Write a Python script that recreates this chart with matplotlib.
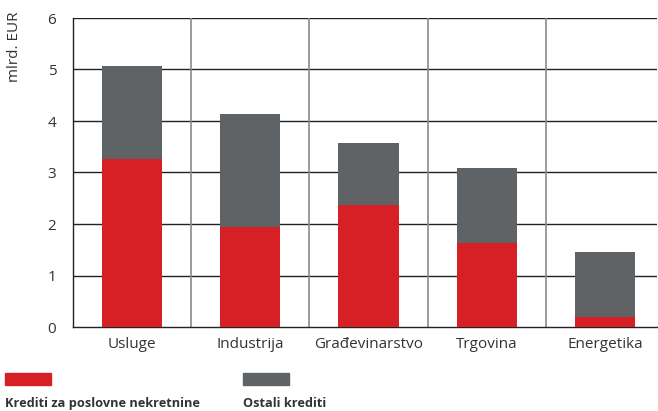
import numpy as np
import matplotlib
matplotlib.use("Agg")
import matplotlib.pyplot as plt

plt.rcParams['font.family'] = ['Open Sans', 'DejaVu Sans']

# Data (mlrd. EUR)
categories = ['Usluge', 'Industrija', 'Građevinarstvo', 'Trgovina', 'Energetika']
krediti_nekretnine = [3.26, 1.94, 2.37, 1.63, 0.19]
ukupno = [5.07, 4.14, 3.57, 3.09, 1.46]
ostali_krediti = [t - r for t, r in zip(ukupno, krediti_nekretnine)]
yticks = [0, 1, 2, 3, 4, 5, 6]

red = '#d71f26'
gray = '#606366'
text_col = '#333333'

fig = plt.figure(figsize=(6.58, 4.11), dpi=100)
ax = fig.add_axes([73 / 658, 1 - 327 / 411, 584 / 658, 309 / 411])

x = np.arange(len(categories))
w = 0.51
ax.bar(x, krediti_nekretnine, width=w, color=red, zorder=3)
ax.bar(x, ostali_krediti, width=w, bottom=krediti_nekretnine, color=gray, zorder=3)

# horizontal grid lines (dark) and category separators (gray)
for t in yticks[1:]:
    ax.axhline(t, color='#222222', lw=1.0, zorder=1)
for b in x[:-1] + 0.5:
    ax.axvline(b, color='#8a8a8a', lw=1.2, zorder=1)

ax.set_xlim(-0.5, 4.44)
ax.set_ylim(0, 6)
ax.set_yticks(yticks)
ax.set_xticks(x)
ax.set_xticklabels(categories)
ax.tick_params(axis='both', length=0, labelsize=11, colors=text_col)
ax.tick_params(axis='y', pad=12)
ax.tick_params(axis='x', pad=7)

for s in ['top', 'right']:
    ax.spines[s].set_visible(False)
ax.spines['left'].set_color('#222222')
ax.spines['bottom'].set_color('#222222')
ax.spines['left'].set_linewidth(1.0)
ax.spines['bottom'].set_linewidth(1.0)

fig.text(15 / 658, 1 - 47 / 411, 'mlrd. EUR', rotation=90, ha='center', va='center',
         fontsize=11, color=text_col)

# legend drawn at the bottom
fig.patches.append(plt.Rectangle((5 / 658, 1 - 385 / 411), 46 / 658, 12 / 411,
                                 transform=fig.transFigure, color=red, figure=fig))
fig.patches.append(plt.Rectangle((243 / 658, 1 - 385 / 411), 46 / 658, 12 / 411,
                                 transform=fig.transFigure, color=gray, figure=fig))
fig.text(5 / 658, 1 - 403 / 411, 'Krediti za poslovne nekretnine', ha='left', va='center',
         fontsize=9.2, fontweight='bold', color=text_col)
fig.text(243 / 658, 1 - 403 / 411, 'Ostali krediti', ha='left', va='center',
         fontsize=9.2, fontweight='bold', color=text_col)

fig.savefig('out.png', dpi=100)
